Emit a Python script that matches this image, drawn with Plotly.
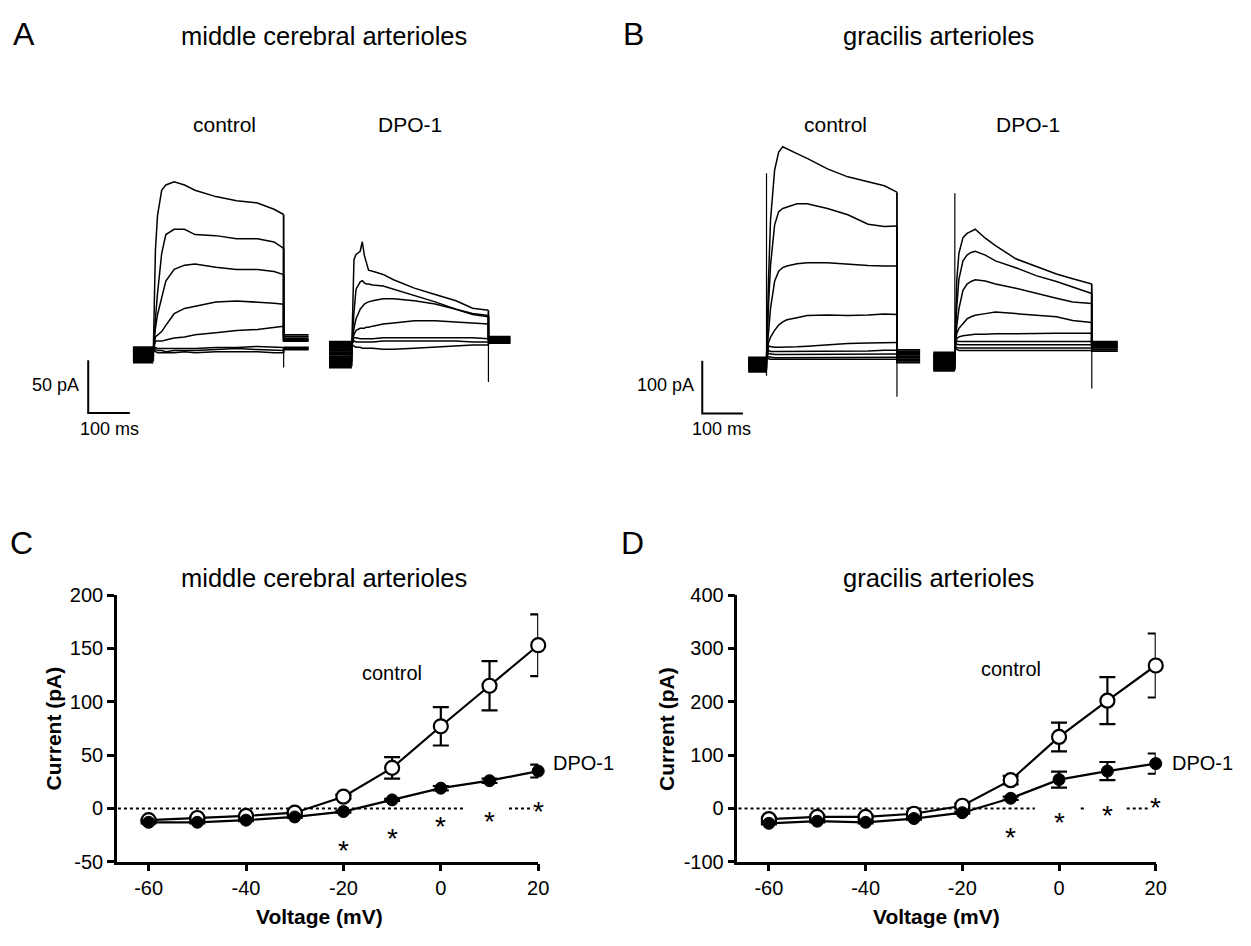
import plotly.graph_objects as go

W, H = 1251, 946
FONT = "Liberation Sans, Arial, Helvetica, sans-serif"

# ---------------- Data: panels C and D (current-voltage relationships) ----------------
voltage_mV = [-60, -50, -40, -30, -20, -10, 0, 10, 20]
volt_ticks = [-60, -40, -20, 0, 20]
volt_ticktext = ["-60", "-40", "-20", "0", "20"]

mca_control_pA = [-11, -9, -7, -4, 11, 38, 77, 115, 153]
mca_control_sem = [1, 1, 1, 1, 2, 10, 18, 23, 29]
mca_dpo_pA = [-13, -13, -11, -8, -3, 8, 19, 26, 35]
mca_dpo_sem = [1, 1, 1, 1, 1, 1, 2, 2, 6]
mca_sig_v = [-20, -10, 0, 10, 20]
mca_sig_y = [-32, -21, -10, -5, 4]
mca_zero_x = [-70, 5, None, 14, 19]
mca_yticks = [-50, 0, 50, 100, 150, 200]

gra_control_pA = [-20, -16, -16, -10, 5, 53, 134, 202, 268]
gra_control_sem = [3, 3, 3, 3, 4, 8, 27, 44, 60]
gra_dpo_pA = [-28, -24, -26, -19, -8, 19, 54, 70, 84]
gra_dpo_sem = [2, 2, 2, 2, 2, 3, 15, 17, 19]
gra_sig_v = [-10, 0, 10, 20]
gra_sig_y = [-40, -12, 2, 16]
gra_zero_x = [-70, -5, None, 4.5, 5.3, None, 14, 19]
gra_yticks = [-100, 0, 100, 200, 300, 400]

# ---------------- Data: panels A and B (current traces, ms / pA) ----------------
# middle cerebral, control
a_ctrl_t = [0, 5, 10, 20, 30, 50, 75, 100, 150, 200, 250, 290, 313]
a_ctrl_pre_t, a_ctrl_tail_t = -49, 373
a_ctrl_traces = [
    [0, 95, 128, 152, 157, 160, 157, 152, 146, 142, 140, 134, 129],
    [0, 30, 54, 92, 110, 115, 115, 110, 109, 106, 106, 103, 97],
    [0, 21, 34, 50, 66, 77, 81, 82, 79, 77, 77, 75, 72],
    [0, 13, 15, 18, 24, 35, 40, 42, 46, 47, 46, 45, 44],
    [0, 9, 9, 9, 10, 12, 13, 15, 17, 19, 20, 22, 23],
    [0, 3, 2, 2, 2, 2, 2, 2, 3, 3, 4, 3, 3],
    [0, 1, 0, 0, -1, 0, 0, 0, 1, 2, 1, 0, 0],
    [0, -1, -2, -2, -2, -2, -1, -2, -1, -1, -1, -2, -2],
]
a_ctrl_pre = [-10, -8, -6, -4, -2, 0, 1, 2]
a_ctrl_tail = [15, 13, 11, 10, 9, 3, 2, 1]
a_ctrl_end_spike = [0, -16]

# middle cerebral, DPO-1
a_dpo_t = [0, 5, 10, 20, 25, 30, 35, 40, 50, 75, 100, 150, 200, 250, 290, 328]
a_dpo_pre_t, a_dpo_tail_t = -55, 381
a_dpo_traces = [
    [0, 80, 85, 88, 97, 84, 76, 70, 69, 66, 61, 53, 47, 41, 34, 32],
    [0, 30, 52, 59, 60, 58, 57, 57, 56, 55, 52, 46, 40, 33, 28, 26],
    [0, 15, 24, 33, 36, 38, 39, 40, 41, 43, 43, 41, 38, 33, 29, 27],
    [0, 9, 13, 15, 15, 15, 16, 16, 17, 19, 20, 22, 22, 21, 20, 19],
    [0, 6, 6, 5, 5, 5, 5, 5, 5, 6, 6, 6, 6, 6, 6, 5],
    [0, 3, 2, 2, 2, 2, 2, 2, 2, 3, 3, 3, 3, 3, 2, 2],
    [0, -2, -3, -3, -4, -4, -4, -4, -4, -5, -5, -4, -3, -2, -1, -1],
]
a_dpo_pre = [-21, -17, -13, -9, -5, -1, 1]
a_dpo_tail = [7, 6, 5, 4, 3, 2, 1]
a_dpo_end_spike = [0, -36]

# gracilis, control
b_ctrl_t = [0, 5, 10, 20, 30, 40, 50, 75, 100, 150, 200, 250, 290, 321]
b_ctrl_pre_t, b_ctrl_tail_t = -45, 378
b_ctrl_traces = [
    [0, 150, 262, 356, 390, 400, 396, 387, 378, 358, 343, 333, 326, 314],
    [0, 100, 176, 252, 277, 283, 286, 292, 292, 283, 271, 253, 249, 250],
    [0, 48, 94, 145, 164, 171, 174, 178, 180, 180, 177, 175, 174, 174],
    [0, 29, 39, 52, 62, 68, 72, 76, 80, 81, 80, 81, 83, 82],
    [0, 22, 21, 20, 20, 20, 20, 21, 22, 25, 27, 28, 29, 29],
    [0, 14, 12, 12, 12, 12, 12, 12, 12, 13, 13, 13, 14, 14],
    [0, 8, 7, 6, 6, 6, 6, 6, 6, 6, 7, 7, 7, 7],
    [0, 2, 1, 0, 0, 0, 0, 0, 0, 0, 1, 1, 1, 1],
    [0, -2, -3, -3, -3, -3, -3, -3, -3, -3, -3, -3, -3, -3],
]
b_ctrl_pre = [-24, -21, -18, -15, -12, -9, -6, -4, -2]
b_ctrl_tail = [15, 12, 9, 6, 3, 0, -3, -6, -9]
b_ctrl_on_spike = [-34, 350]
b_ctrl_end_spike = [0, -74]

# gracilis, DPO-1
b_dpo_t = [0, 5, 10, 20, 30, 40, 50, 75, 100, 150, 200, 250, 290, 337]
b_dpo_pre_t, b_dpo_tail_t = -53, 401
b_dpo_traces = [
    [0, 127, 176, 206, 214, 218, 222, 205, 191, 166, 151, 137, 128, 118],
    [0, 77, 127, 162, 173, 178, 180, 173, 162, 149, 134, 123, 112, 100],
    [0, 40, 71, 106, 118, 123, 126, 124, 118, 110, 100, 91, 84, 81],
    [0, 25, 34, 43, 52, 56, 59, 62, 65, 62, 59, 56, 49, 45],
    [0, 15, 18, 20, 21, 22, 23, 23, 24, 24, 25, 25, 25, 25],
    [0, 10, 9, 9, 9, 9, 9, 9, 9, 9, 9, 9, 9, 9],
    [0, 4, 3, 3, 3, 3, 3, 3, 3, 3, 3, 3, 3, 3],
    [0, -2, -3, -3, -3, -3, -3, -3, -3, -3, -3, -3, -3, -3],
    [0, -6, -8, -8, -8, -8, -8, -8, -8, -8, -8, -8, -8, -8],
]
b_dpo_pre = [-44, -40, -36, -32, -28, -24, -20, -17, -14]
b_dpo_tail = [9, 7, 5, 3, 1, -1, -3, -6, -9]
b_dpo_on_spike = [-46, 290]
b_dpo_end_spike = [0, -80]

# scale bars
scale_a_ms, scale_a_pA = 100, 50
scale_b_ms, scale_b_pA = 100, 100

# ---------------- Layout helpers (pixel geometry) ----------------
def dom_x(a, b):
    return [a / W, b / W]


def dom_y(top, bottom):
    return [1 - bottom / H, 1 - top / H]


fig = go.Figure()

# ---------- trace panels ----------
trace_axes = {}


def make_trace_axes(idx, box, t0_px, px_ms, zero_py, px_pA):
    x0, x1, y0, y1 = box
    xa = dict(domain=dom_x(x0, x1), range=[(x0 - t0_px) / px_ms, (x1 - t0_px) / px_ms],
              visible=False, anchor="y%d" % idx, fixedrange=True)
    ya = dict(domain=dom_y(y0, y1), range=[(zero_py - y1) / px_pA, (zero_py - y0) / px_pA],
              visible=False, anchor="x%d" % idx, fixedrange=True)
    trace_axes[idx] = (xa, ya, t0_px, px_ms, zero_py, px_pA)


make_trace_axes(3, (40, 330, 150, 445), 154.7, 0.42, 347.7, 1.08)
make_trace_axes(4, (318, 530, 190, 445), 355.0, 0.42, 341.0, 1.08)
make_trace_axes(5, (615, 940, 120, 445), 773.3, 0.41, 355.0, 0.54)
make_trace_axes(6, (928, 1140, 120, 445), 963.3, 0.41, 343.3, 0.54)


def seg(idx, xs, ys, width):
    fig.add_trace(go.Scatter(x=xs, y=ys, mode="lines", line=dict(color="black", width=width),
                             xaxis="x%d" % idx, yaxis="y%d" % idx,
                             showlegend=False, hoverinfo="skip"))


def add_traces(idx, grid, pre_t, tail_t, traces, pres, tails, on_spike=None, end_spike=None):
    t_end = grid[-1]
    for vals, pre, tail in zip(traces, pres, tails):
        # holding period (noisy band)
        seg(idx, [pre_t, 0], [pre, pre], 4.6)
        # test pulse
        seg(idx, [0] + list(grid), [pre] + list(vals), 1.5)
        # tail
        seg(idx, [t_end, t_end, tail_t], [vals[-1], tail, tail], 1.8)
    if on_spike:
        seg(idx, [0, 0], on_spike, 1.2)
    if end_spike:
        seg(idx, [t_end, t_end], end_spike, 1.2)


add_traces(3, a_ctrl_t, a_ctrl_pre_t, a_ctrl_tail_t, a_ctrl_traces, a_ctrl_pre, a_ctrl_tail,
           end_spike=a_ctrl_end_spike)
add_traces(4, a_dpo_t, a_dpo_pre_t, a_dpo_tail_t, a_dpo_traces, a_dpo_pre, a_dpo_tail,
           end_spike=a_dpo_end_spike)
add_traces(5, b_ctrl_t, b_ctrl_pre_t, b_ctrl_tail_t, b_ctrl_traces, b_ctrl_pre, b_ctrl_tail,
           on_spike=b_ctrl_on_spike, end_spike=b_ctrl_end_spike)
add_traces(6, b_dpo_t, b_dpo_pre_t, b_dpo_tail_t, b_dpo_traces, b_dpo_pre, b_dpo_tail,
           on_spike=b_dpo_on_spike, end_spike=b_dpo_end_spike)


# scale bars (corner position is layout, lengths are data)
def add_scale_bar(idx, corner_px, ms, pA):
    _, _, t0_px, px_ms, zero_py, px_pA = trace_axes[idx]
    tc = (corner_px[0] - t0_px) / px_ms
    ic = (zero_py - corner_px[1]) / px_pA
    seg(idx, [tc, tc, tc + ms], [ic + pA, ic, ic], 2)


add_scale_bar(3, (89, 411.5), scale_a_ms, scale_a_pA)
add_scale_bar(5, (708.5, 412), scale_b_ms, scale_b_pA)

# ---------- I-V panels ----------
ERR = dict(type="data", visible=True, color="black", thickness=2.2, width=8)


def add_iv(xr, yr, ctrl, ctrl_sem, dpo, dpo_sem, zero_x):
    fig.add_trace(go.Scatter(x=zero_x, y=[0 if v is not None else None for v in zero_x], mode="lines",
                             line=dict(color="black", width=2, dash="dot"), xaxis=xr, yaxis=yr,
                             showlegend=False, hoverinfo="skip", connectgaps=False))
    fig.add_trace(go.Scatter(x=voltage_mV, y=ctrl, mode="lines+markers",
                             line=dict(color="black", width=2.2),
                             marker=dict(symbol="circle", size=14, color="white",
                                         line=dict(color="black", width=2.2)),
                             error_y=dict(array=ctrl_sem, **ERR), cliponaxis=False,
                             xaxis=xr, yaxis=yr, showlegend=False, hoverinfo="skip"))
    fig.add_trace(go.Scatter(x=voltage_mV, y=dpo, mode="lines+markers",
                             line=dict(color="black", width=2.2),
                             marker=dict(symbol="circle", size=12, color="black",
                                         line=dict(color="black", width=1)),
                             error_y=dict(array=dpo_sem, **ERR), cliponaxis=False,
                             xaxis=xr, yaxis=yr, showlegend=False, hoverinfo="skip"))


add_iv("x", "y", mca_control_pA, mca_control_sem, mca_dpo_pA, mca_dpo_sem, mca_zero_x)
add_iv("x2", "y2", gra_control_pA, gra_control_sem, gra_dpo_pA, gra_dpo_sem, gra_zero_x)

IV_TOP, IV_BOT = 598, 871
C_X = (118, 543)
D_X = (744, 1166)
X_RANGE = [-66.5, 20]

axis_common = dict(showline=True, linecolor="black", linewidth=2.5, ticks="outside", ticklen=7,
                   tickwidth=2.5, tickcolor="black", showgrid=False, zeroline=False,
                   tickfont=dict(family=FONT, size=20, color="black"), fixedrange=True)


def iv_layout(xd, yrange, yticks):
    xa = dict(domain=dom_x(*xd), range=X_RANGE, tickvals=volt_ticks, ticktext=volt_ticktext,
              **axis_common)
    ya = dict(domain=dom_y(IV_TOP, IV_BOT), range=yrange, tickvals=yticks,
              ticktext=[str(v) for v in yticks], **axis_common)
    return xa, ya


xC, yC = iv_layout(C_X, [-50, 200], mca_yticks)
xD, yD = iv_layout(D_X, [-100, 400], gra_yticks)
xC["anchor"], yC["anchor"] = "y", "x"
xD["anchor"], yD["anchor"] = "y2", "x2"

layout = dict(
    width=W, height=H, margin=dict(l=0, r=0, t=0, b=0),
    paper_bgcolor="white", plot_bgcolor="rgba(0,0,0,0)",
    font=dict(family=FONT, color="black"),
    xaxis=xC, yaxis=yC, xaxis2=xD, yaxis2=yD,
)
for idx, (xa, ya, *_rest) in trace_axes.items():
    layout["xaxis%d" % idx] = xa
    layout["yaxis%d" % idx] = ya
fig.update_layout(**layout)

# ---------- text ----------
ann = []


def ptext(text, x, y, size, bold=False, xanchor="center", textangle=0):
    ann.append(dict(text=("<b>%s</b>" % text) if bold else text, x=x / W, y=1 - y / H,
                    xref="paper", yref="paper", xanchor=xanchor, yanchor="middle",
                    showarrow=False, textangle=textangle,
                    font=dict(family=FONT, size=size, color="black")))


# panel letters
ptext("A", 24, 24, 32)
ptext("B", 639, 24, 32)
ptext("C", 22, 545, 32)
ptext("D", 638, 545, 32)
# titles
ptext("middle cerebral arterioles", 327, 26, 25.5)
ptext("gracilis arterioles", 947, 26, 25.5)
ptext("middle cerebral arterioles", 327, 580, 25.5)
ptext("gracilis arterioles", 947, 580, 25.5)
# trace labels
ptext("control", 226, 116, 21)
ptext("DPO-1", 414, 116, 21)
ptext("control", 843, 116, 21)
ptext("DPO-1", 1037, 116, 21)
# scale bar labels
ptext("50 pA", 82, 383, 18, xanchor="right")
ptext("100 ms", 110, 428, 18)
ptext("100 pA", 702, 383, 18, xanchor="right")
ptext("100 ms", 728, 428, 18)
# axis titles
ptext("Current (pA)", 54, 735, 21, bold=True, textangle=-90)
ptext("Voltage (mV)", 322, 927, 21, bold=True)
ptext("Current (pA)", 673, 735, 21, bold=True, textangle=-90)
ptext("Voltage (mV)", 945, 927, 21, bold=True)


def data_to_px(xd, yr, v, c):
    x0, x1 = xd
    px = x0 + (v - X_RANGE[0]) / (X_RANGE[1] - X_RANGE[0]) * (x1 - x0)
    py = IV_BOT - (c - yr[0]) / (yr[1] - yr[0]) * (IV_BOT - IV_TOP)
    return px, py


def dtext(text, xd, yr, v, c, size, xanchor="center", dy=0):
    px, py = data_to_px(xd, yr, v, c)
    ptext(text, px, py + dy, size, xanchor=xanchor)


dtext("control", C_X, [-50, 200], -10, 127, 20)
dtext("DPO-1", C_X, [-50, 200], 22.7, 43, 20, xanchor="left")
dtext("control", D_X, [-100, 400], -10, 262, 20)
dtext("DPO-1", D_X, [-100, 400], 22.9, 86, 20, xanchor="left")
for v, s in zip(mca_sig_v, mca_sig_y):
    dtext("*", C_X, [-50, 200], v, s, 28, dy=8)
for v, s in zip(gra_sig_v, gra_sig_y):
    dtext("*", D_X, [-100, 400], v, s, 28, dy=8)

fig.update_layout(annotations=ann)
fig.write_html("out.html")
